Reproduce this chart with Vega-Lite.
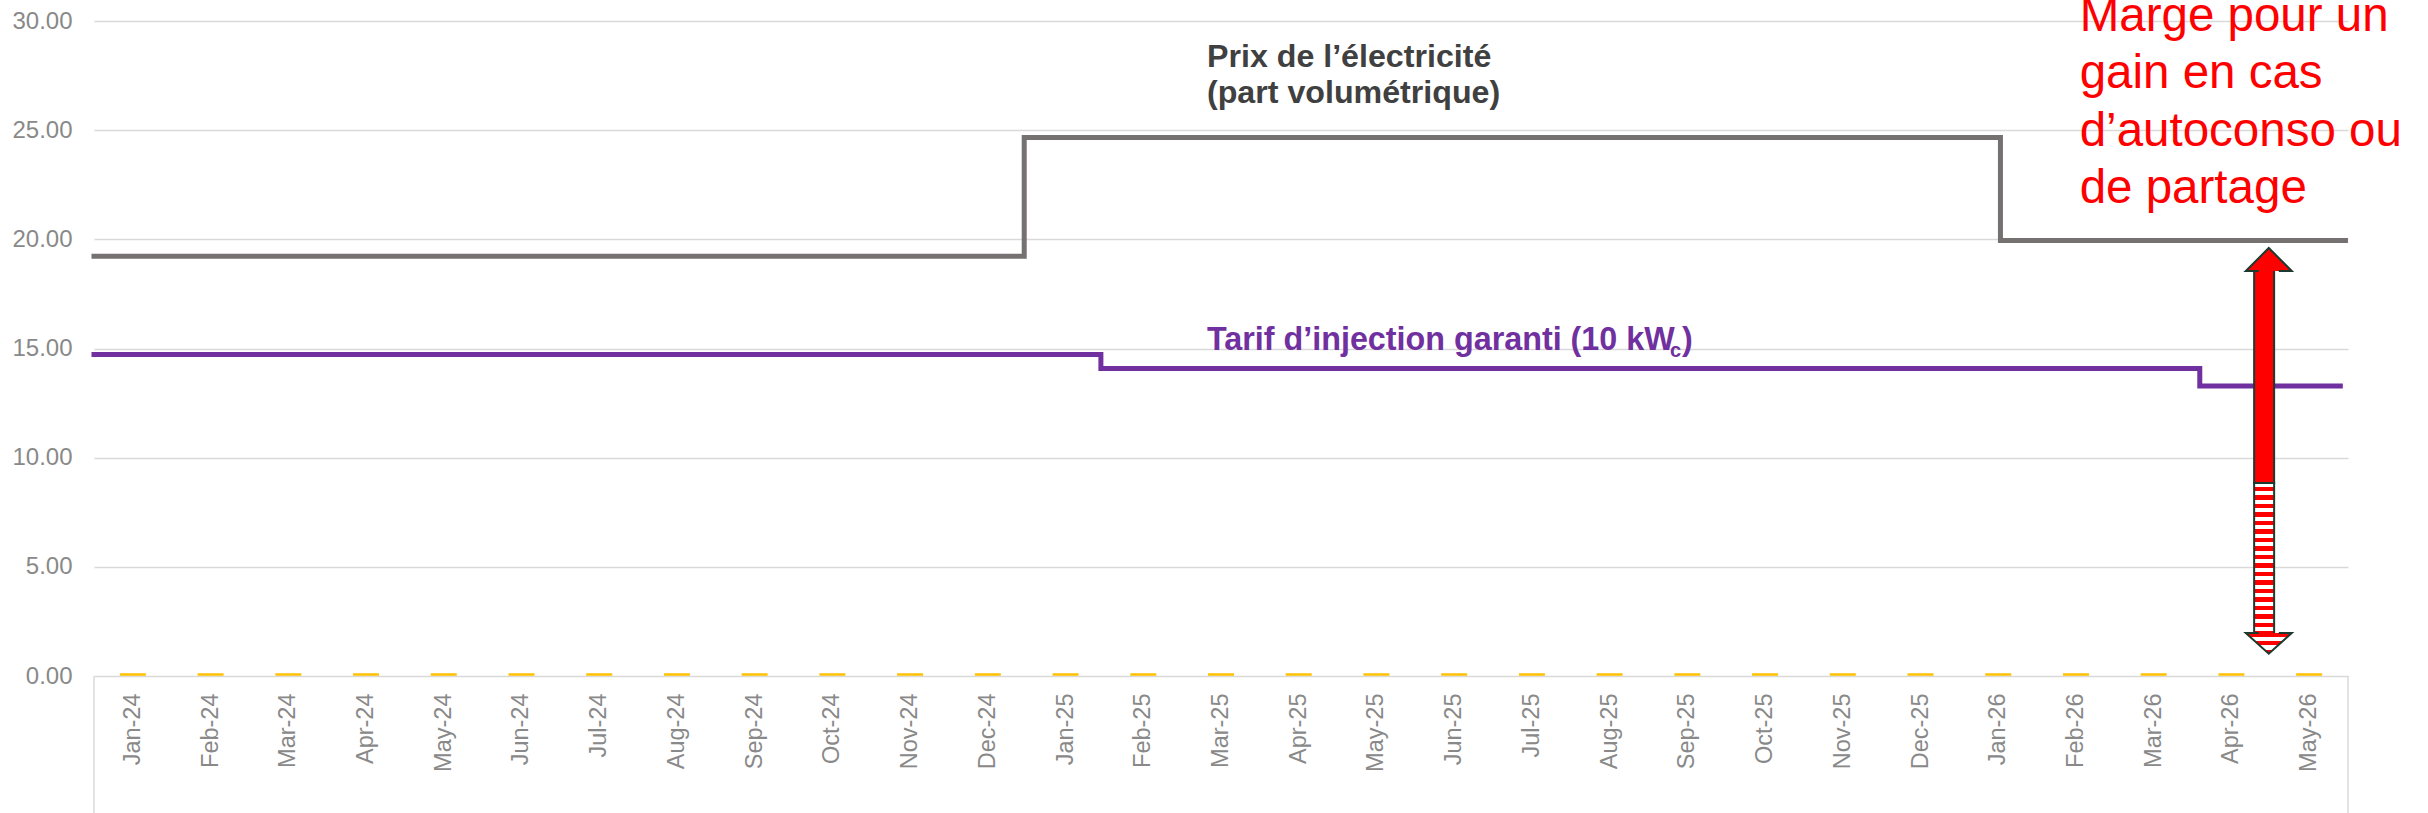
{
  "$schema": "https://vega.github.io/schema/vega-lite/v6.json",
  "width": 2254,
  "height": 655,
  "autosize": {"type": "none"},
  "padding": {"left": 94, "top": 21, "right": 80, "bottom": 137},
  "background": "#ffffff",
  "config": {"view": {"stroke": null}, "font": "Liberation Sans"},
  "datasets": {
    "mois": [
      {"mois": "Jan-24", "autre": 0}, {"mois": "Feb-24", "autre": 0}, {"mois": "Mar-24", "autre": 0},
      {"mois": "Apr-24", "autre": 0}, {"mois": "May-24", "autre": 0}, {"mois": "Jun-24", "autre": 0},
      {"mois": "Jul-24", "autre": 0}, {"mois": "Aug-24", "autre": 0}, {"mois": "Sep-24", "autre": 0},
      {"mois": "Oct-24", "autre": 0}, {"mois": "Nov-24", "autre": 0}, {"mois": "Dec-24", "autre": 0},
      {"mois": "Jan-25", "autre": 0}, {"mois": "Feb-25", "autre": 0}, {"mois": "Mar-25", "autre": 0},
      {"mois": "Apr-25", "autre": 0}, {"mois": "May-25", "autre": 0}, {"mois": "Jun-25", "autre": 0},
      {"mois": "Jul-25", "autre": 0}, {"mois": "Aug-25", "autre": 0}, {"mois": "Sep-25", "autre": 0},
      {"mois": "Oct-25", "autre": 0}, {"mois": "Nov-25", "autre": 0}, {"mois": "Dec-25", "autre": 0},
      {"mois": "Jan-26", "autre": 0}, {"mois": "Feb-26", "autre": 0}, {"mois": "Mar-26", "autre": 0},
      {"mois": "Apr-26", "autre": 0}, {"mois": "May-26", "autre": 0}
    ],
    "tarifs": [
      {"date": "2024-01-01", "serie": "Prix", "valeur": 19.22},
      {"date": "2024-12-30", "serie": "Prix", "valeur": 24.66},
      {"date": "2026-01-16", "serie": "Prix", "valeur": 19.95},
      {"date": "2026-05-31", "serie": "Prix", "valeur": 19.95},
      {"date": "2024-01-01", "serie": "Injection", "valeur": 14.72},
      {"date": "2025-01-29", "serie": "Injection", "valeur": 14.08},
      {"date": "2026-04-04", "serie": "Injection", "valeur": 13.28},
      {"date": "2026-05-29", "serie": "Injection", "valeur": 13.28}
    ],
    "marge": [
      {"date": "2026-05-01", "haut": 18.55, "milieu": 8.84, "bas": 1.97}
    ]
  },
  "layer": [
    {
      "data": {"name": "mois"},
      "mark": {"type": "tick", "orient": "horizontal", "size": 26, "thickness": 2.5, "color": "#ffc000", "opacity": 1, "yOffset": -1.5},
      "encoding": {
        "x": {"field": "mois", "type": "ordinal", "sort": null,
              "scale": {"type": "band", "paddingInner": 0, "paddingOuter": 0},
              "axis": {"title": null, "labelAngle": 270, "labelFontSize": 23.5, "labelColor": "#898989", "labelFont": "Liberation Sans",
                       "labelPadding": 17, "ticks": false, "tickSize": 0, "domain": false, "grid": false, "labelOverlap": false}},
        "y": {"field": "autre", "type": "quantitative", "title": null,
              "scale": {"domain": [0, 30], "nice": false, "zero": false},
              "axis": {"title": null, "values": [0, 5, 10, 15, 20, 25, 30], "format": ".2f", "grid": true, "gridColor": "#d9d9d9", "gridWidth": 1.5,
                       "labelFontSize": 24, "labelColor": "#898989", "labelFont": "Liberation Sans", "labelPadding": 22, "ticks": false, "domain": false}}
      }
    },
    {
      "data": {"name": "tarifs"},
      "mark": {"type": "line", "interpolate": "step-after", "strokeWidth": 5, "strokeCap": "square"},
      "encoding": {
        "x": {"field": "date", "type": "temporal", "axis": null,
              "scale": {"type": "utc", "nice": false, "domain": [{"year": 2024, "month": 1, "date": 1, "utc": true}, {"year": 2026, "month": 6, "date": 1, "utc": true}]}},
        "y": {"field": "valeur", "type": "quantitative", "title": null, "scale": {"domain": [0, 30], "nice": false, "zero": false}},
        "color": {"field": "serie", "type": "nominal", "legend": null, "scale": {"domain": ["Prix", "Injection"], "range": ["#767171", "#7030a0"]}}
      }
    },
    {
      "data": {"values": [{}]},
      "mark": {"type": "rule", "color": "#d9d9d9", "strokeWidth": 1.5},
      "encoding": {
        "x": {"datum": {"year": 2024, "month": 1, "date": 1, "utc": true}, "type": "temporal", "axis": null,
              "scale": {"type": "utc", "nice": false, "domain": [{"year": 2024, "month": 1, "date": 1, "utc": true}, {"year": 2026, "month": 6, "date": 1, "utc": true}]}},
        "y": {"datum": 0, "type": "quantitative", "title": null, "scale": {"domain": [0, 30], "nice": false, "zero": false}},
        "y2": {"datum": -6.5}
      }
    },
    {
      "data": {"values": [{}]},
      "mark": {"type": "rule", "color": "#d9d9d9", "strokeWidth": 1.5},
      "encoding": {
        "x": {"datum": {"year": 2026, "month": 6, "date": 1, "utc": true}, "type": "temporal", "axis": null,
              "scale": {"type": "utc", "nice": false, "domain": [{"year": 2024, "month": 1, "date": 1, "utc": true}, {"year": 2026, "month": 6, "date": 1, "utc": true}]}},
        "y": {"datum": 0, "type": "quantitative", "title": null, "scale": {"domain": [0, 30], "nice": false, "zero": false}},
        "y2": {"datum": -6.5}
      }
    },
    {
      "data": {"name": "marge"},
      "mark": {"type": "bar", "width": 20, "fill": "#ff0000", "stroke": "#1b3b30", "strokeWidth": 2, "y2Offset": -3},
      "encoding": {
        "x": {"field": "date", "type": "temporal", "axis": null,
              "scale": {"type": "utc", "nice": false, "domain": [{"year": 2024, "month": 1, "date": 1, "utc": true}, {"year": 2026, "month": 6, "date": 1, "utc": true}]}},
        "y": {"field": "milieu", "type": "quantitative", "title": null, "scale": {"domain": [0, 30], "nice": false, "zero": false}},
        "y2": {"field": "haut"}
      }
    },
    {
      "data": {"name": "marge"},
      "mark": {"type": "bar", "width": 20, "stroke": "#1b3b30", "strokeWidth": 2, "yOffset": 3,
               "fill": {"gradient": "linear", "x1": 0, "y1": 0, "x2": 0, "y2": 1, "stops": [
                 {"offset": 0, "color": "#ffffff"}, {"offset": 0.025, "color": "#ffffff"}, {"offset": 0.025, "color": "#ff0000"}, {"offset": 0.0556, "color": "#ff0000"},
                 {"offset": 0.0556, "color": "#ffffff"}, {"offset": 0.0806, "color": "#ffffff"}, {"offset": 0.0806, "color": "#ff0000"}, {"offset": 0.1111, "color": "#ff0000"},
                 {"offset": 0.1111, "color": "#ffffff"}, {"offset": 0.1361, "color": "#ffffff"}, {"offset": 0.1361, "color": "#ff0000"}, {"offset": 0.1667, "color": "#ff0000"},
                 {"offset": 0.1667, "color": "#ffffff"}, {"offset": 0.1917, "color": "#ffffff"}, {"offset": 0.1917, "color": "#ff0000"}, {"offset": 0.2222, "color": "#ff0000"},
                 {"offset": 0.2222, "color": "#ffffff"}, {"offset": 0.2472, "color": "#ffffff"}, {"offset": 0.2472, "color": "#ff0000"}, {"offset": 0.2778, "color": "#ff0000"},
                 {"offset": 0.2778, "color": "#ffffff"}, {"offset": 0.3028, "color": "#ffffff"}, {"offset": 0.3028, "color": "#ff0000"}, {"offset": 0.3333, "color": "#ff0000"},
                 {"offset": 0.3333, "color": "#ffffff"}, {"offset": 0.3583, "color": "#ffffff"}, {"offset": 0.3583, "color": "#ff0000"}, {"offset": 0.3889, "color": "#ff0000"},
                 {"offset": 0.3889, "color": "#ffffff"}, {"offset": 0.4139, "color": "#ffffff"}, {"offset": 0.4139, "color": "#ff0000"}, {"offset": 0.4444, "color": "#ff0000"},
                 {"offset": 0.4444, "color": "#ffffff"}, {"offset": 0.4694, "color": "#ffffff"}, {"offset": 0.4694, "color": "#ff0000"}, {"offset": 0.5, "color": "#ff0000"},
                 {"offset": 0.5, "color": "#ffffff"}, {"offset": 0.525, "color": "#ffffff"}, {"offset": 0.525, "color": "#ff0000"}, {"offset": 0.5556, "color": "#ff0000"},
                 {"offset": 0.5556, "color": "#ffffff"}, {"offset": 0.5806, "color": "#ffffff"}, {"offset": 0.5806, "color": "#ff0000"}, {"offset": 0.6111, "color": "#ff0000"},
                 {"offset": 0.6111, "color": "#ffffff"}, {"offset": 0.6361, "color": "#ffffff"}, {"offset": 0.6361, "color": "#ff0000"}, {"offset": 0.6667, "color": "#ff0000"},
                 {"offset": 0.6667, "color": "#ffffff"}, {"offset": 0.6917, "color": "#ffffff"}, {"offset": 0.6917, "color": "#ff0000"}, {"offset": 0.7222, "color": "#ff0000"},
                 {"offset": 0.7222, "color": "#ffffff"}, {"offset": 0.7472, "color": "#ffffff"}, {"offset": 0.7472, "color": "#ff0000"}, {"offset": 0.7778, "color": "#ff0000"},
                 {"offset": 0.7778, "color": "#ffffff"}, {"offset": 0.8028, "color": "#ffffff"}, {"offset": 0.8028, "color": "#ff0000"}, {"offset": 0.8333, "color": "#ff0000"},
                 {"offset": 0.8333, "color": "#ffffff"}, {"offset": 0.8583, "color": "#ffffff"}, {"offset": 0.8583, "color": "#ff0000"}, {"offset": 0.8889, "color": "#ff0000"},
                 {"offset": 0.8889, "color": "#ffffff"}, {"offset": 0.9139, "color": "#ffffff"}, {"offset": 0.9139, "color": "#ff0000"}, {"offset": 0.9444, "color": "#ff0000"},
                 {"offset": 0.9444, "color": "#ffffff"}, {"offset": 0.9694, "color": "#ffffff"}, {"offset": 0.9694, "color": "#ff0000"}, {"offset": 1, "color": "#ff0000"}
               ]}},
      "encoding": {
        "x": {"field": "date", "type": "temporal", "axis": null,
              "scale": {"type": "utc", "nice": false, "domain": [{"year": 2024, "month": 1, "date": 1, "utc": true}, {"year": 2026, "month": 6, "date": 1, "utc": true}]}},
        "y": {"field": "bas", "type": "quantitative", "title": null, "scale": {"domain": [0, 30], "nice": false, "zero": false}},
        "y2": {"field": "milieu"}
      }
    },
    {
      "data": {"name": "marge"},
      "mark": {"type": "point", "shape": "M-0.435,0L-1,0L0,-1L1,0L0.435,0", "size": 2116, "filled": true, "fill": "#ff0000",
               "stroke": "#1b3b30", "strokeWidth": 2, "opacity": 1, "fillOpacity": 1, "strokeOpacity": 1},
      "encoding": {
        "x": {"field": "date", "type": "temporal", "axis": null,
              "scale": {"type": "utc", "nice": false, "domain": [{"year": 2024, "month": 1, "date": 1, "utc": true}, {"year": 2026, "month": 6, "date": 1, "utc": true}]}},
        "y": {"field": "haut", "type": "quantitative", "title": null, "scale": {"domain": [0, 30], "nice": false, "zero": false}}
      }
    },
    {
      "data": {"name": "marge"},
      "mark": {"type": "point", "shape": "M-0.435,0L-1,0L0,0.9L1,0L0.435,0", "size": 2116, "filled": true,
               "fill": {"gradient": "linear", "x1": 0, "y1": 0, "x2": 0, "y2": 1, "stops": [
                 {"offset": 0, "color": "#ff0000"}, {"offset": 0.2, "color": "#ff0000"}, {"offset": 0.2, "color": "#ffffff"}, {"offset": 0.4, "color": "#ffffff"},
                 {"offset": 0.4, "color": "#ff0000"}, {"offset": 0.6, "color": "#ff0000"}, {"offset": 0.6, "color": "#ffffff"}, {"offset": 0.8, "color": "#ffffff"},
                 {"offset": 0.8, "color": "#ff0000"}, {"offset": 1, "color": "#ff0000"}
               ]},
               "stroke": "#1b3b30", "strokeWidth": 2, "opacity": 1, "fillOpacity": 1, "strokeOpacity": 1},
      "encoding": {
        "x": {"field": "date", "type": "temporal", "axis": null,
              "scale": {"type": "utc", "nice": false, "domain": [{"year": 2024, "month": 1, "date": 1, "utc": true}, {"year": 2026, "month": 6, "date": 1, "utc": true}]}},
        "y": {"field": "bas", "type": "quantitative", "title": null, "scale": {"domain": [0, 30], "nice": false, "zero": false}}
      }
    },
    {
      "data": {"values": [{}]},
      "mark": {"type": "text", "text": ["Prix de l’électricité", "(part volumétrique)"], "align": "left", "baseline": "alphabetic",
               "font": "Liberation Sans", "fontWeight": "bold", "fontSize": 32.2, "lineHeight": 36, "color": "#404040"},
      "encoding": {
        "x": {"datum": {"year": 2025, "month": 3, "date": 11, "hours": 12, "utc": true}, "type": "temporal", "axis": null,
              "scale": {"type": "utc", "nice": false, "domain": [{"year": 2024, "month": 1, "date": 1, "utc": true}, {"year": 2026, "month": 6, "date": 1, "utc": true}]}},
        "y": {"datum": 27.9, "type": "quantitative", "title": null, "scale": {"domain": [0, 30], "nice": false, "zero": false}}
      }
    },
    {
      "data": {"values": [{}]},
      "mark": {"type": "text", "text": "Tarif d’injection garanti (10 kW", "align": "left", "baseline": "alphabetic",
               "font": "Liberation Sans", "fontWeight": "bold", "fontSize": 32.3, "color": "#7030a0"},
      "encoding": {
        "x": {"datum": {"year": 2025, "month": 3, "date": 11, "hours": 12, "utc": true}, "type": "temporal", "axis": null,
              "scale": {"type": "utc", "nice": false, "domain": [{"year": 2024, "month": 1, "date": 1, "utc": true}, {"year": 2026, "month": 6, "date": 1, "utc": true}]}},
        "y": {"datum": 14.93, "type": "quantitative", "title": null, "scale": {"domain": [0, 30], "nice": false, "zero": false}}
      }
    },
    {
      "data": {"values": [{}]},
      "mark": {"type": "text", "text": "c", "align": "left", "baseline": "alphabetic", "dx": 463, "dy": 7,
               "font": "Liberation Sans", "fontWeight": "bold", "fontSize": 20, "color": "#7030a0"},
      "encoding": {
        "x": {"datum": {"year": 2025, "month": 3, "date": 11, "hours": 12, "utc": true}, "type": "temporal", "axis": null,
              "scale": {"type": "utc", "nice": false, "domain": [{"year": 2024, "month": 1, "date": 1, "utc": true}, {"year": 2026, "month": 6, "date": 1, "utc": true}]}},
        "y": {"datum": 14.93, "type": "quantitative", "title": null, "scale": {"domain": [0, 30], "nice": false, "zero": false}}
      }
    },
    {
      "data": {"values": [{}]},
      "mark": {"type": "text", "text": ")", "align": "left", "baseline": "alphabetic", "dx": 475,
               "font": "Liberation Sans", "fontWeight": "bold", "fontSize": 32.3, "color": "#7030a0"},
      "encoding": {
        "x": {"datum": {"year": 2025, "month": 3, "date": 11, "hours": 12, "utc": true}, "type": "temporal", "axis": null,
              "scale": {"type": "utc", "nice": false, "domain": [{"year": 2024, "month": 1, "date": 1, "utc": true}, {"year": 2026, "month": 6, "date": 1, "utc": true}]}},
        "y": {"datum": 14.93, "type": "quantitative", "title": null, "scale": {"domain": [0, 30], "nice": false, "zero": false}}
      }
    },
    {
      "data": {"values": [{}]},
      "mark": {"type": "text", "text": ["Marge pour un", "gain en cas", "d’autoconso ou", "de partage"], "align": "left", "baseline": "alphabetic",
               "font": "Liberation Sans", "fontSize": 47.5, "lineHeight": 57.5, "color": "#ff0000"},
      "encoding": {
        "x": {"datum": {"year": 2026, "month": 2, "date": 16, "utc": true}, "type": "temporal", "axis": null,
              "scale": {"type": "utc", "nice": false, "domain": [{"year": 2024, "month": 1, "date": 1, "utc": true}, {"year": 2026, "month": 6, "date": 1, "utc": true}]}},
        "y": {"datum": 29.55, "type": "quantitative", "title": null, "scale": {"domain": [0, 30], "nice": false, "zero": false}}
      }
    }
  ],
  "resolve": {"scale": {"x": "independent"}}
}
